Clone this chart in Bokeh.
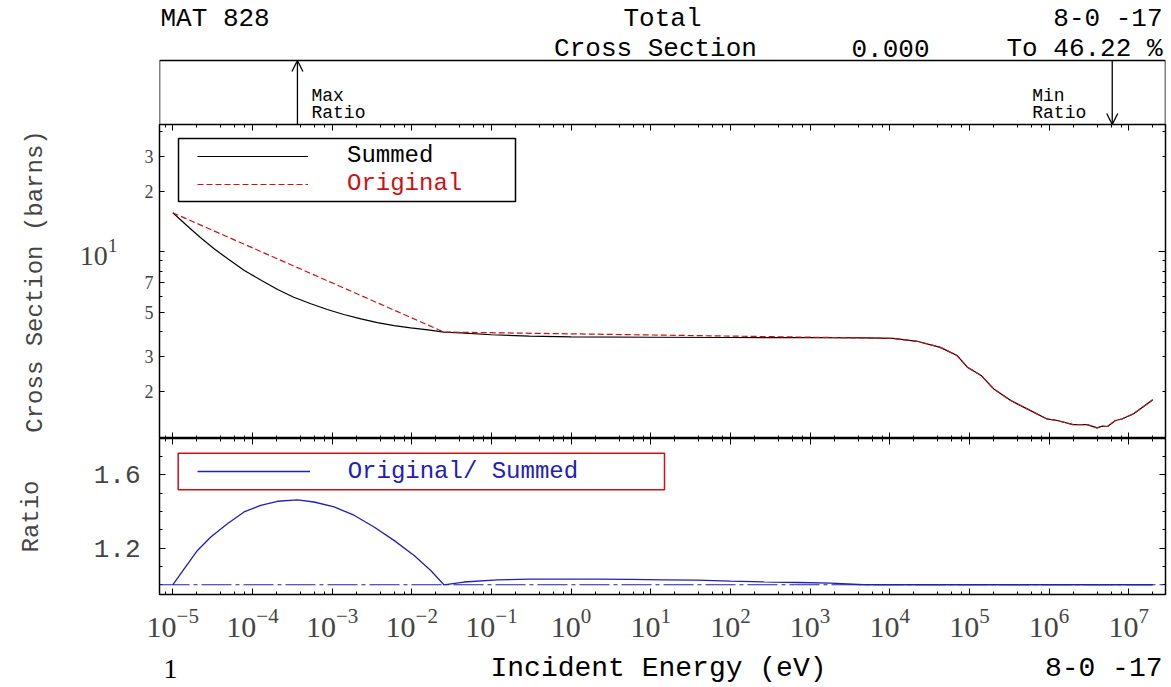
from bokeh.plotting import figure
from bokeh.models import (Range1d, LogAxis, LinearAxis, FixedTicker, CustomJSTickFormatter,
                          LogTickFormatter, Legend, LegendItem, BoxAnnotation, Label, Arrow,
                          OpenHead, Span)
from bokeh.layouts import column
from bokeh.embed import file_html
from bokeh.resources import INLINE

# ---------------- data ----------------
energy_summed = [1.0e-5, 1.5e-5, 2.2e-5, 3.3e-5, 4.9e-5, 7.9e-5, 1.3e-4, 2.1e-4, 3.3e-4,
                 5.4e-4, 8.7e-4, 1.4e-3, 2.3e-3, 3.7e-3, 6.0e-3, 9.7e-3, 1.6e-2, 2.53e-2,
                 4.1e-2, 0.1, 0.3, 1.0, 10.0, 100.0, 1.0e3, 4.7e3, 1.1e4, 2.2e4, 4.3e4,
                 7.0e4, 9.4e4, 1.4e5, 2.0e5, 3.3e5, 5.3e5, 9.4e5, 1.26e6, 2.0e6, 3.0e6,
                 4.0e6, 4.6e6, 5.4e6, 6.8e6, 8.2e6, 1.15e7, 2.0e7]
summed = [15.67, 13.54, 11.83, 10.35, 9.23, 8.06, 7.19, 6.46, 5.93,
          5.50, 5.15, 4.86, 4.62, 4.43, 4.28, 4.17, 4.07, 3.97,
          3.93, 3.85, 3.79, 3.76, 3.74, 3.73, 3.72, 3.71, 3.69, 3.57, 3.33,
          3.03, 2.65, 2.41, 2.07, 1.805, 1.64, 1.46, 1.434, 1.369, 1.369,
          1.318, 1.343, 1.339, 1.434, 1.46, 1.55, 1.82]

energy_original = [1.0e-5, 2.53e-2, 4.7e3, 1.1e4, 2.2e4, 4.3e4, 7.0e4, 9.4e4, 1.4e5, 2.0e5,
                   3.3e5, 5.3e5, 9.4e5, 1.26e6, 2.0e6, 3.0e6, 4.0e6, 4.6e6, 5.4e6, 6.8e6,
                   8.2e6, 1.15e7, 2.0e7]
original = [15.67, 3.97, 3.71, 3.69, 3.57, 3.33, 3.03, 2.65, 2.41, 2.07,
            1.805, 1.64, 1.46, 1.434, 1.369, 1.369, 1.318, 1.343, 1.339, 1.434,
            1.46, 1.55, 1.82]

energy_ratio = [1.0e-5, 1.39e-5, 2.04e-5, 3.0e-5, 4.85e-5, 7.85e-5, 1.27e-4, 2.06e-4, 3.67e-4,
                5.93e-4, 1.06e-3, 1.88e-3, 3.36e-3, 5.98e-3, 1.07e-2, 1.73e-2, 2.53e-2,
                4.5e-2, 0.119, 0.31, 0.81, 2.14, 5.6, 14.6, 38.0, 100.0, 263.0, 692.0,
                1.82e3, 4.7e3, 2.0e7]
ratio = [1.0, 1.087, 1.187, 1.260, 1.333, 1.397, 1.433, 1.455, 1.4622,
         1.451, 1.424, 1.379, 1.315, 1.242, 1.160, 1.078, 1.0,
         1.015, 1.027, 1.031, 1.031, 1.031, 1.029, 1.027, 1.025, 1.020, 1.016, 1.0125,
         1.009, 1.0, 1.0]

min_ratio_energy = 6.2e6
x_decade_ticks = [1e-5, 1e-4, 1e-3, 1e-2, 1e-1, 1e0, 1e1, 1e2, 1e3, 1e4, 1e5, 1e6, 1e7]
y_cs_label_ticks = [2, 3, 5, 7, 10, 20, 30]
y_cs_minor_ticks = [4, 6, 8, 9, 40]
y_ratio_label_ticks = [1.2, 1.6]
y_ratio_minor_ticks = [1.0, 1.1, 1.3, 1.4, 1.5, 1.7]

# ---------------- styling ----------------
W = 1171
LB, RB = 159, 6
MONO = "Liberation Mono"
SERIF = "Liberation Serif"
BLUE = "#2020b8"
RED = "#d01010"

x_minor = [m * 10.0 ** k for k in range(-6, 8) for m in (2, 4, 6, 8)]
xr = Range1d(6.81e-6, 2.89e7)


def base_fig(height, top, bottom, y_range, y_log):
    p = figure(width=W, height=height, x_axis_type="log",
               y_axis_type="log" if y_log else "linear",
               x_range=xr, y_range=y_range, x_axis_location=None, y_axis_location=None,
               toolbar_location=None, output_backend="svg",
               min_border_left=LB, min_border_right=RB, min_border_top=top,
               min_border_bottom=bottom)
    p.grid.visible = False
    p.outline_line_color = "black"
    p.outline_line_width = 1.5
    p.background_fill_color = "white"
    p.border_fill_color = "white"
    return p


def text_fig(height):
    p = figure(width=W, height=height, x_range=Range1d(LB, W - RB), y_range=Range1d(0, height),
               x_axis_location=None, y_axis_location=None, toolbar_location=None,
               output_backend="svg", min_border_left=LB, min_border_right=RB,
               min_border_top=0, min_border_bottom=0)
    p.grid.visible = False
    p.outline_line_color = None
    p.background_fill_color = "white"
    p.border_fill_color = "white"
    return p


def ticks_only(ax, major=6, minor=3):
    ax.major_tick_in = major
    ax.major_tick_out = 0
    ax.minor_tick_in = minor
    ax.minor_tick_out = 0
    ax.axis_line_color = None
    ax.major_tick_line_color = "black"
    ax.minor_tick_line_color = "black"
    return ax


def hide_labels(ax):
    ax.major_label_text_color = None
    return ax


def lab(p, text, x, y, size, align="left", color="black", font=MONO, xu="data", yu="data",
        x_offset=0):
    p.add_layout(Label(x=x, y=y, x_units=xu, y_units=yu, text=text, text_font=font,
                       text_font_size=size, text_align=align, text_baseline="middle",
                       text_color=color, x_offset=x_offset))


imax = ratio.index(max(ratio))
e_max = energy_ratio[imax]
pct_max = (max(ratio) - 1.0) * 100.0
pct_min = (min(ratio) - 1.0) * 100.0

# ---------------- header + panel 1 (max/min ratio arrows) ----------------
# panel box occupies y in [0, 1] (64 px); header text sits above it (y up to 124/64)
p1 = base_fig(124, 0, 0, Range1d(0, 124 / 64), False)
p1.outline_line_color = None
p1.add_layout(BoxAnnotation(bottom=0, top=1, fill_color=None, line_color="black",
                            line_alpha=1, line_width=1.5))
lab(p1, "MAT 828", 1, 1.648, "26px", xu="screen")
lab(p1, "Total", 503, 1.648, "26px", align="center", xu="screen")
lab(p1, "8-0 -17", 1003, 1.648, "26px", align="right", xu="screen")
lab(p1, "Cross Section", 496, 1.185, "26px", align="center", xu="screen")
lab(p1, f"{pct_min:.3f}", 731, 1.185, "26px", align="center", xu="screen")
lab(p1, f"To {pct_max:.2f} %", 1003, 1.185, "26px", align="right", xu="screen")

p1.add_layout(Arrow(end=OpenHead(size=11, line_width=1.3, line_color="black"),
                    x_start=e_max, x_end=e_max, y_start=0, y_end=1,
                    line_width=1.3, line_color="black"))
p1.add_layout(Arrow(end=OpenHead(size=11, line_width=1.3, line_color="black"),
                    x_start=min_ratio_energy, x_end=min_ratio_energy, y_start=1, y_end=0,
                    line_width=1.3, line_color="black"))
lab(p1, "Max", e_max, 0.453, "18px", x_offset=14)
lab(p1, "Ratio", e_max, 0.172, "18px", x_offset=14)
lab(p1, "Min", min_ratio_energy, 0.453, "18px", x_offset=-80)
lab(p1, "Ratio", min_ratio_energy, 0.172, "18px", x_offset=-80)

# ---------------- panel 2 : cross sections ----------------
p2 = base_fig(314, 0, 0, Range1d(1.166, 43.3), True)
r_sum = p2.line(energy_summed, summed, line_color="black", line_width=1.2)
r_org = p2.line(energy_original, original, line_color=RED, line_width=1.2, line_dash="6 3")

inner = LogAxis(ticker=FixedTicker(ticks=y_cs_label_ticks, minor_ticks=y_cs_minor_ticks),
                formatter=CustomJSTickFormatter(
                    code="if (tick == 10) { return ''; } "
                         "return tick > 10 ? (tick / 10).toFixed(0) : tick.toFixed(0);"),
                major_label_text_font=SERIF, major_label_text_font_size="18px",
                major_label_standoff=6)
ticks_only(inner, 5, 3)
p2.add_layout(inner, "left")

outer = LogAxis(ticker=FixedTicker(ticks=[10], minor_ticks=[]), formatter=LogTickFormatter(),
                major_label_text_font=SERIF, major_label_text_font_size="28px",
                major_label_standoff=24, axis_label="Cross Section (barns)",
                axis_label_text_font=MONO, axis_label_text_font_size="24px",
                axis_label_text_font_style="normal", axis_label_standoff=28)
ticks_only(outer, 0, 0)
outer.major_tick_line_color = None
outer.minor_tick_line_color = None
p2.add_layout(outer, "left")

p2.add_layout(hide_labels(ticks_only(LogAxis(
    ticker=FixedTicker(ticks=[10], minor_ticks=[2, 3, 4, 5, 6, 7, 8, 9, 20, 30, 40])), 7, 3)),
    "right")
for side in ("above", "below"):
    p2.add_layout(hide_labels(ticks_only(LogAxis(
        ticker=FixedTicker(ticks=x_decade_ticks, minor_ticks=x_minor)), 6, 3)), side)


def legend(item_label, renderer, loc, color, glyph_w, standoff):
    return Legend(items=[LegendItem(label=item_label, renderers=[renderer])], location=loc,
                  glyph_width=glyph_w, glyph_height=30, label_height=30,
                  label_standoff=standoff, padding=0, margin=0, spacing=0,
                  border_line_color=None, background_fill_alpha=0, label_text_font=MONO,
                  label_text_font_size="24px", label_text_color=color)


p2.add_layout(legend("Summed", r_sum, (38, 267.5), "black", 111, 39))
p2.add_layout(legend("Original", r_org, (38, 239.2), RED, 111, 39))
p2.add_layout(BoxAnnotation(left=19, right=356, top=300, bottom=237, left_units="screen",
                            right_units="screen", top_units="screen", bottom_units="screen",
                            fill_color=None, line_color="black", line_alpha=1,
                            line_width=1.5))

# ---------------- panel 3 : ratio ----------------
p3 = base_fig(212, 0, 56, Range1d(0.947, 1.797), False)
r_ratio = p3.line(energy_ratio, ratio, line_color=BLUE, line_width=1.3)
p3.add_layout(Span(location=1.0, dimension="width", line_color=BLUE, line_width=1.2,
                   line_dash="30 4 4 4"))

left3 = LinearAxis(ticker=FixedTicker(ticks=y_ratio_label_ticks, minor_ticks=y_ratio_minor_ticks),
                   major_label_text_font=MONO, major_label_text_font_size="26px",
                   major_label_standoff=19, axis_label="Ratio", axis_label_text_font=MONO,
                   axis_label_text_font_size="24px", axis_label_text_font_style="normal",
                   axis_label_standoff=46)
ticks_only(left3, 6, 3)
p3.add_layout(left3, "left")
p3.add_layout(hide_labels(ticks_only(LinearAxis(
    ticker=FixedTicker(ticks=y_ratio_label_ticks, minor_ticks=y_ratio_minor_ticks)), 6, 3)),
    "right")
p3.add_layout(hide_labels(ticks_only(LogAxis(
    ticker=FixedTicker(ticks=x_decade_ticks, minor_ticks=x_minor)), 6, 3)), "above")
bottom3 = LogAxis(ticker=FixedTicker(ticks=x_decade_ticks, minor_ticks=x_minor),
                  formatter=LogTickFormatter(), major_label_text_font=SERIF,
                  major_label_text_font_size="30px", major_label_standoff=14)
ticks_only(bottom3, 6, 3)
p3.add_layout(bottom3, "below")

p3.add_layout(legend("Original/ Summed", r_ratio, (37.7, 108), BLUE, 113, 38))
p3.add_layout(BoxAnnotation(left=18.7, right=505, top=141.3, bottom=104.7, left_units="screen",
                            right_units="screen", top_units="screen", bottom_units="screen",
                            fill_color=None, line_color=RED, line_alpha=1, line_width=1.5))

# ---------------- footer ----------------
p4 = text_fig(37)
lab(p4, "1", 163, 19, "28px", font=SERIF)
lab(p4, "Incident Energy (eV)", 658, 19, "28px", align="center")
lab(p4, "8-0 -17", 1162, 19, "28px", align="right")

layout = column(p1, p2, p3, p4)
open("out.html", "w").write(file_html(layout, INLINE))
